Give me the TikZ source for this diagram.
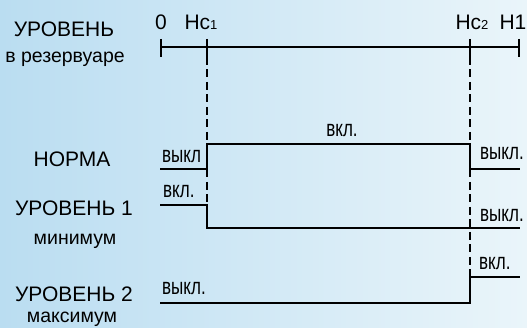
\documentclass[tikz,border=0pt]{standalone}
\usepackage{fontspec}
\usepackage{graphicx}
\setmainfont{Liberation Sans}
\usetikzlibrary{positioning}
\definecolor{bgleft}{RGB}{186,221,241}
\definecolor{bgright}{RGB}{234,245,250}
\newcommand{\sw}[1]{\scalebox{0.74}[1]{\fontsize{23}{23}\selectfont #1}}
\newcommand{\lvl}{\fontsize{21}{21}\selectfont}
\newcommand{\sublvl}{\fontsize{19.5}{19.5}\selectfont}

\tikzset{
  signal/.style={line width=2.8pt, line join=miter},
  guide/.style={line width=2.2pt, dash pattern=on 8pt off 4.5pt},
  tick/.style={line width=2.2pt},
  swlabel/.style={inner sep=0pt, anchor=base west},
  rowlabel/.style={inner sep=0pt, anchor=base, align=center}
}

\begin{document}
\begin{tikzpicture}[x=1pt, y=-1pt]
% background
\shade[left color=bgleft, right color=bgright] (0,0) rectangle (527,328);
\useasboundingbox (0,0) rectangle (527,328);

% axis
\coordinate (a0) at (161,47);
\coordinate (a1) at (519,47);
\draw[tick] (a0) -- (a1);
% ticks
\foreach \x in {161,207,470,519}
  \draw[tick] (\x,39) -- (\x,57);

% axis labels
\node[rowlabel] (zero) at (161,30) {\lvl 0};
\node[rowlabel] (hc1) at (201,30) {\lvl Нс{\fontsize{13}{13}\selectfont 1}};
\node[rowlabel] (hc2) at (472,30) {\lvl Нс{\fontsize{13}{13}\selectfont 2}};
\node[rowlabel] (h1) at (513,30) {\lvl Н1};

% guides at Hc1 and Hc2
\coordinate (g1top) at (207,57);
\coordinate (g1bot) at (207,205);
\coordinate (g2top) at (470,57);
\coordinate (g2bot) at (470,277);
\draw[guide] (g1top) -- (g1bot);
\draw[guide] (g2top) -- (g2bot);

% row labels
\node[rowlabel] (level) at (64,37) {\lvl УРОВЕНЬ};
\node[rowlabel] (tank) at (65,63) {\sublvl в резервуаре};
\node[rowlabel] (norm) at (72,167) {\lvl НОРМА};
\node[rowlabel] (lvlone) at (74,216) {\lvl УРОВЕНЬ 1};
\node[rowlabel] (minlbl) at (75,245) {\sublvl минимум};
\node[rowlabel] (lvltwo) at (74,302) {\lvl УРОВЕНЬ 2};
\node[rowlabel] (maxlbl) at (72,323) {\sublvl максимум};

% НОРМА
\draw[signal] (160,169) -- (207,169) -- (207,144) -- (470,144) -- (470,169) -- (520,169);
\node[swlabel] (normoff) at (162,163) {\sw{выкл}};
\node[rowlabel] (normon) at (342,137) {\sw{вкл.}};
\node[swlabel] (normoff2) at (480,160) {\sw{выкл.}};

% УРОВЕНЬ 1
\draw[signal] (160,205) -- (207,205) -- (207,228) -- (520,228);
\node[swlabel] (oneon) at (163,198) {\sw{вкл.}};
\node[swlabel] (oneoff) at (480,222) {\sw{выкл.}};

% УРОВЕНЬ 2
\draw[signal] (160,303) -- (470,303) -- (470,277) -- (520,277);
\node[swlabel] (twooff) at (162,295) {\sw{выкл.}};
\node[swlabel] (twoon) at (479,270) {\sw{вкл.}};

\end{tikzpicture}
\end{document}
